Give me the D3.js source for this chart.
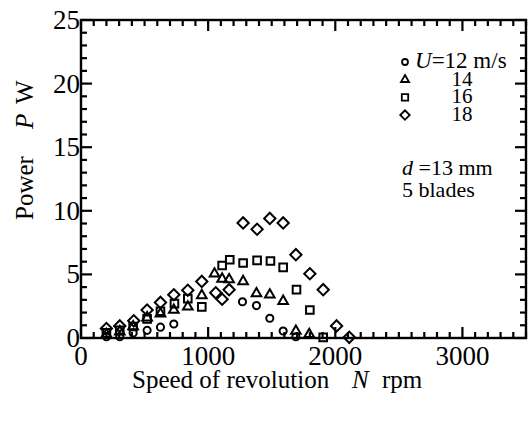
<!DOCTYPE html>
<html>
<head>
<meta charset="utf-8">
<script src="https://cdn.jsdelivr.net/npm/d3@7"></script>
<style>
  body { margin: 0; background: #fff; }
  text { font-family: "Liberation Serif", "Times New Roman", serif; fill: #000; }
</style>
</head>
<body>
<div id="chart"></div>
<script>
// readings of the scanned figure, [N rpm, P W]
var u12 = [[200,0.1],[305,0.1],[410,0.4],[520,0.6],[625,0.85],[730,1.1],[1270,2.85],[1380,2.55],[1485,1.55],[1590,0.55],[1690,0.1]];
var u14 = [[200,0.3],[305,0.5],[410,0.9],[520,1.6],[625,1.9],[730,2.2],[840,2.45],[950,3.35],[1050,5.05],[1110,4.65],[1165,4.6],[1275,4.45],[1380,3.5],[1485,3.4],[1590,2.9],[1690,0.55],[1795,0.3]];
var u16 = [[200,0.4],[305,0.6],[410,0.9],[520,1.5],[625,2.1],[735,2.7],[840,3.1],[950,2.45],[1110,5.7],[1170,6.15],[1275,5.9],[1385,6.1],[1490,6.05],[1590,5.55],[1695,3.8],[1800,2.2],[1905,0.05]];
var u18 = [[200,0.75],[305,0.95],[415,1.35],[520,2.2],[625,2.8],[730,3.4],[840,3.75],[950,4.45],[1060,3.55],[1110,3.05],[1165,3.8],[1275,9.05],[1385,8.55],[1485,9.4],[1590,9.05],[1690,6.55],[1800,5.05],[1905,3.8],[2010,0.95],[2110,0.05]];

var xTicks = [0, 1000, 2000, 3000];
var yTicks = [0, 5, 10, 15, 20, 25];
var legendLabels = ["12 m/s", "14", "16", "18"];

var W = 532, H = 421;
var margin = {top: 20, right: 6, bottom: 83, left: 81};

var svg = d3.select("#chart").append("svg")
    .attr("width", W)
    .attr("height", H);

var x = d3.scaleLinear().domain([0, 3500]).range([margin.left, W - margin.right]);
var y = d3.scaleLinear().domain([0, 25]).range([H - margin.bottom, margin.top]);

// frame
svg.append("rect")
    .attr("x", x(0)).attr("y", y(25))
    .attr("width", x(3500) - x(0)).attr("height", y(0) - y(25))
    .style("fill", "none").style("stroke", "#000").style("stroke-width", "2.4px");

// tick labels
svg.selectAll(".xl").data(xTicks).enter().append("text")
    .attr("x", function(d) { return x(d); })
    .attr("y", y(0) + 27)
    .attr("text-anchor", "middle")
    .style("font-size", "27px")
    .text(function(d) { return d; });
svg.selectAll(".yl").data(yTicks).enter().append("text")
    .attr("x", x(0) - 1)
    .attr("y", function(d) { return y(d) + 9; })
    .attr("text-anchor", "end")
    .style("font-size", "27px")
    .text(function(d) { return d; });

// axis titles
var xt = svg.append("text").attr("y", 388).style("font-size", "25px");
xt.append("tspan").attr("x", 132).text("Speed of revolution");
xt.append("tspan").attr("x", 352).style("font-style", "italic").text("N");
xt.append("tspan").attr("x", 382).text("rpm");

var yt = svg.append("text")
    .attr("transform", "translate(33,0) rotate(-90)")
    .style("font-size", "25px");
yt.append("tspan").attr("x", -220).text("Power");
yt.append("tspan").attr("x", -129).style("font-style", "italic").text("P");
yt.append("tspan").attr("x", -104).text("W");

// markers
var shapes = [
  {data: u12, type: d3.symbolCircle, size: 40, rot: 0},
  {data: u14, type: d3.symbolTriangle, size: 40, rot: 0},
  {data: u16, type: d3.symbolSquare, size: 58, rot: 0},
  {data: u18, type: d3.symbolSquare, size: 64, rot: 45}
];
shapes.forEach(function(s) {
  svg.append("g").selectAll("path").data(s.data).enter().append("path")
      .attr("d", d3.symbol().type(s.type).size(s.size))
      .attr("transform", function(d) {
        return "translate(" + x(d[0]) + "," + y(d[1]) + ") rotate(" + s.rot + ")";
      })
      .style("fill", "none")
      .style("stroke", "#000")
      .style("stroke-width", "2px");
});

// legend
var lg = svg.append("g");
legendLabels.forEach(function(lab, i) {
  var s = shapes[i], cy = 62 + i * 17.7;
  lg.append("path")
      .attr("d", d3.symbol().type(s.type).size(s.size * 0.7))
      .attr("transform", "translate(405," + cy + ") rotate(" + s.rot + ")")
      .style("fill", "none").style("stroke", "#000").style("stroke-width", "1.8px");
  if (i === 0) {
    var t = lg.append("text").attr("x", 415).attr("y", cy + 6).style("font-size", "23px");
    t.append("tspan").style("font-style", "italic").text("U");
    t.append("tspan").text("=" + lab);
  } else {
    lg.append("text").attr("x", 462).attr("y", cy + 6)
        .attr("text-anchor", "middle").style("font-size", "21px").text(lab);
  }
});
var dt = lg.append("text").attr("x", 402).attr("y", 175).style("font-size", "22px");
dt.append("tspan").style("font-style", "italic").text("d");
dt.append("tspan").text(" =13 mm");
lg.append("text").attr("x", 402).attr("y", 197).style("font-size", "22px").text("5 blades");

// inward ticks on all four sides, minor every 100 rpm / 1 W, drawn last
var xMinor = d3.range(0, 3501, 100), yMinor = d3.range(0, 26, 1);
function tickLen(v, major) { return major.indexOf(v) >= 0 ? 11 : 6; }
var tk = svg.append("g");
[[y(0), -1], [y(25), 1]].forEach(function(side) {
  tk.selectAll(null).data(xMinor).enter().append("line")
      .attr("x1", function(d) { return x(d); })
      .attr("x2", function(d) { return x(d); })
      .attr("y1", side[0])
      .attr("y2", function(d) { return side[0] + side[1] * tickLen(d, xTicks); })
      .style("stroke", "#000").style("stroke-width", "2.2px");
});
[[x(0), 1], [x(3500), -1]].forEach(function(side) {
  tk.selectAll(null).data(yMinor).enter().append("line")
      .attr("y1", function(d) { return y(d); })
      .attr("y2", function(d) { return y(d); })
      .attr("x1", side[0])
      .attr("x2", function(d) { return side[0] + side[1] * tickLen(d, yTicks); })
      .style("stroke", "#000").style("stroke-width", "2.2px");
});
</script>
</body>
</html>
